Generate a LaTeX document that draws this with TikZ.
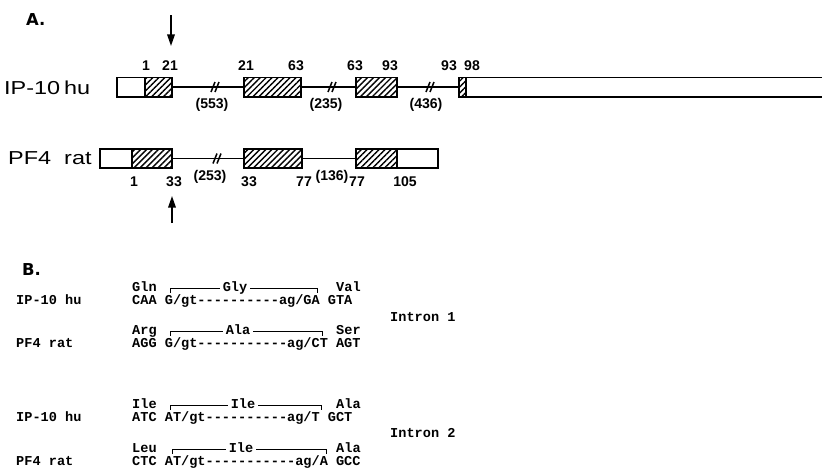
\documentclass[tikz,border=0pt]{standalone}
\usepackage{fontspec}
\setmainfont{Liberation Sans}
\setmonofont{Liberation Mono}
\newfontfamily\panelfont{DejaVu Sans}
\usetikzlibrary{positioning,arrows.meta,patterns.meta}

\begin{document}
\begin{tikzpicture}[x=0.03cm,y=-0.03cm,
  exon/.style={draw,line width=1.7pt,minimum height=0.57cm,inner sep=0pt,outer sep=0pt,anchor=west},
  utr/.style={exon,fill=white},
  cds/.style={exon,pattern={Lines[angle=45,distance=3.6pt,line width=1.2pt]}},
  intron/.style={line width=1.1pt},
  brk/.style={line width=1.3pt},
  num/.style={font=\fontsize{12}{14}\selectfont\bfseries,anchor=base,inner sep=0pt},
  gene/.style={font=\fontsize{16}{18}\selectfont,anchor=west,inner sep=0pt},
  panel/.style={font=\fontsize{14}{16}\selectfont\panelfont\bfseries,anchor=west,inner sep=0pt},
  seq/.style={font=\fontsize{11.6}{12}\selectfont\ttfamily\bfseries,anchor=base west,inner sep=0pt},
  aa/.style={seq,anchor=base,fill=white,inner xsep=2pt},
  brack/.style={line width=0.8pt},
  pointer/.style={line width=1.5pt,-{Triangle[length=10pt,width=6.5pt]}}]

\clip (0,0) rectangle (822,469);

% A. exon maps
\node[panel] (panA) at (26,20) {A.};

\node[gene] (ipname) at (4,88) {\scalebox{1.25}[1]{IP-10\,hu}};
\node[utr,minimum width=0.84cm] (ipu1) at (117,87) {};
\node[cds,minimum width=0.81cm] (ipc1) at (ipu1.east) {};
\node[cds,minimum width=1.71cm] (ipc2) at (244,87) {};
\node[cds,minimum width=1.23cm] (ipc3) at (356,87) {};
\node[cds,minimum width=0.21cm] (ipc4) at (459,87) {};
\node[utr,minimum width=11cm] (ipu4) at (ipc4.east) {};
\draw[intron] (ipc1) -- (ipc2);
\draw[intron] (ipc2) -- (ipc3);
\draw[intron] (ipc3) -- (ipc4);

\node[gene] (pfname) at (8,158) {\scalebox{1.25}[1]{PF4\ \ rat}};
\node[utr,minimum width=0.96cm] (pfu1) at (100,158.5) {};
\node[cds,minimum width=1.2cm] (pfc1) at (pfu1.east) {};
\node[cds,minimum width=1.74cm] (pfc2) at (244,158.5) {};
\node[cds,minimum width=1.23cm] (pfc3) at (356,158.5) {};
\node[utr,minimum width=1.23cm] (pfu3) at (pfc3.east) {};
\draw[intron] (pfc1) -- (pfc2);
\draw[intron] (pfc2) -- (pfc3);

% breaks in the long introns
\foreach \bx/\by in {216/87, 333/87, 431/87, 218/158.5}
  \draw[brk] (\bx-5,\by+5) -- (\bx-1,\by-5) (\bx-1,\by+5) -- (\bx+3,\by-5);

% codon numbers and intron sizes
\foreach \x/\t [count=\i] in {146/1, 170/21, 246/21, 296/63, 355/63, 390/93, 449/93, 472/98}
  \node[num] (ipn\i) at (\x,70) {\t};
\foreach \x/\t [count=\i] in {212/(553), 326/(235), 426/(436)}
  \node[num] (ipl\i) at (\x,108) {\t};
\foreach \x/\t [count=\i] in {134/1, 174/33, 249/33, 304/77, 357/77, 405/105}
  \node[num] (pfn\i) at (\x,186) {\t};
\foreach \x/\t [count=\i] in {210/(253), 332/(136)}
  \node[num] (pfl\i) at (\x,180) {\t};

% cut sites
\coordinate (dntop) at (171,15);
\coordinate (dnend) at (171,46);
\coordinate (uptop) at (172,223);
\coordinate (upend) at (172,196);
\draw[pointer] (dntop) -- (dnend);
\draw[pointer] (uptop) -- (upend);

% B. splice junctions
\node[panel] (panB) at (22,270) {B.};

\node[seq] (hu1) at (16,304) {IP-10 hu};
\node[seq] (hu1aa) at (132,291) {Gln};
\draw[brack] (170,293) -- (170,288) -- (317,288) -- (317,293);
\node[aa] (hu1gly) at (235,291) {Gly};
\node[seq] (hu1val) at (336,291) {Val};
\node[seq] (hu1nt) at (132,304) {CAA G/gt----------ag/GA GTA};

\node[seq] (int1) at (390,321) {Intron 1};

\node[seq] (rt1) at (16,347) {PF4 rat};
\node[seq] (rt1aa) at (132,334) {Arg};
\draw[brack] (170,336) -- (170,331) -- (322,331) -- (322,336);
\node[aa] (rt1ala) at (238,334) {Ala};
\node[seq] (rt1ser) at (336,334) {Ser};
\node[seq] (rt1nt) at (132,347) {AGG G/gt-----------ag/CT AGT};

\node[seq] (hu2) at (16,421) {IP-10 hu};
\node[seq] (hu2aa) at (132,408) {Ile};
\draw[brack] (170,410) -- (170,405) -- (321,405) -- (321,410);
\node[aa] (hu2ile) at (243,408) {Ile};
\node[seq] (hu2ala) at (336,408) {Ala};
\node[seq] (hu2nt) at (132,421) {ATC AT/gt----------ag/T GCT};

\node[seq] (int2) at (390,437) {Intron 2};

\node[seq] (rt2) at (16,465) {PF4 rat};
\node[seq] (rt2aa) at (132,452) {Leu};
\draw[brack] (172,454) -- (172,449) -- (326,449) -- (326,454);
\node[aa] (rt2ile) at (241,452) {Ile};
\node[seq] (rt2ala) at (336,452) {Ala};
\node[seq] (rt2nt) at (132,465) {CTC AT/gt-----------ag/A GCC};
\end{tikzpicture}
\end{document}
